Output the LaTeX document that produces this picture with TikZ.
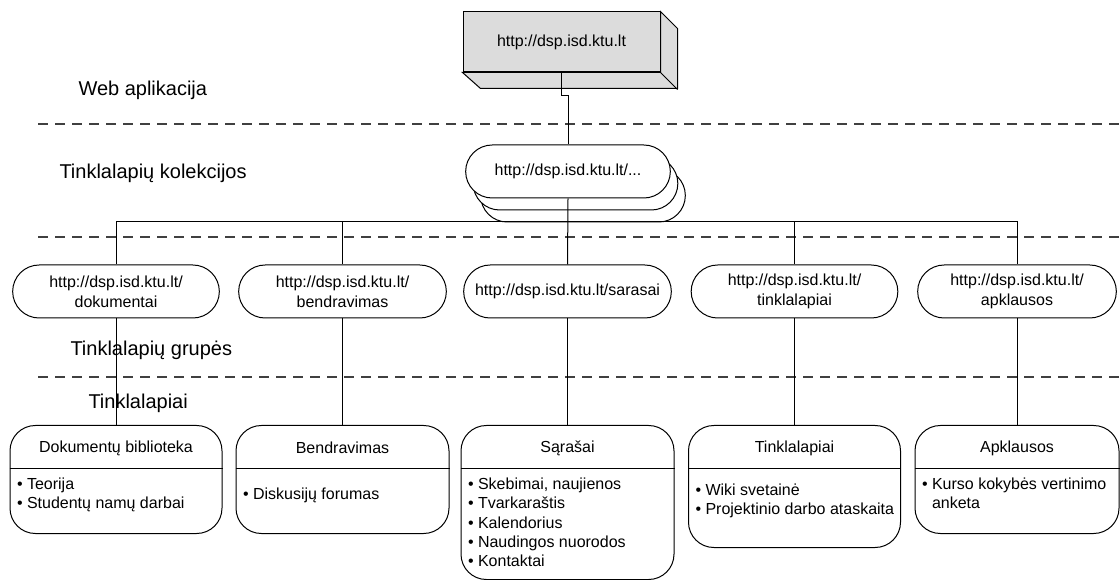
\documentclass[tikz,border=0pt]{standalone}
\usepackage{fontspec}
\setmainfont{Liberation Sans}
\usetikzlibrary{calc, shapes.misc}
\definecolor{appgray}{RGB}{220,220,220}
\definecolor{sepgray}{RGB}{64,64,64}

\begin{document}
\begin{tikzpicture}[x=0.75pt, y=-0.75pt, line width=0.75pt,
  lvl/.style={font=\fontsize{15}{18}\selectfont, inner sep=0pt, anchor=west},
  appbox/.style={draw, fill=appgray, minimum width=147.75pt, minimum height=45pt, font=\fontsize{12}{15}\selectfont},
  pill/.style={draw, fill=white, rounded rectangle, minimum height=39.75pt, inner sep=2pt, align=center, font=\fontsize{12}{15}\selectfont},
  pagebox/.style={draw, fill=white, rounded corners=19pt, inner sep=0pt},
  boxtitle/.style={font=\fontsize{12}{15}\selectfont},
  items/.style={inner sep=0pt, align=left, anchor=north west, font=\fontsize{12}{14.6}\selectfont},
  sep/.style={sepgray, line width=1pt, dash pattern=on 7.5pt off 5.25pt}]
\useasboundingbox (0,0) rectangle (1120,580);

% Level separators and level names
\foreach \y in {124,237,377}
  \draw[sep] (38,\y) -- (1120,\y);
\node[lvl] (lweb) at (78,90) {Web aplikacija};
\node[lvl] (lcoll) at (59,173) {Tinklalapių kolekcijos};
\node[lvl] (lgrp) at (70,350) {Tinklalapių grupės};
\node[lvl] (lpage) at (88,403) {Tinklalapiai};

% Web application (box with depth)
\node[appbox] (app) at (561.5,42) {http://dsp.isd.ktu.lt};
\draw[fill=appgray] (app.north east) -- ++(17,17) -- ++(0,60) -- ++(-197,0)
  -- (app.south west) -- (app.south east) -- cycle;
\draw (app.south east) -- ++(17,17);

% Site collections (stacked)
\foreach \k in {2,1}
  \node[pill, minimum width=157.5pt] (coll\k) at (568+\k*7.5,171.5+\k*12) {};
\node[pill, minimum width=157.5pt] (coll) at (568,171.5) {http://dsp.isd.ktu.lt/...};
\draw (app.south) -- ++(0,23) -| (coll.north);

% Site groups
\foreach \n/\x/\w/\txt in {1/116/212/{http://dsp.isd.ktu.lt/\\dokumentai},
    2/342.5/213/{http://dsp.isd.ktu.lt/\\bendravimas},
    3/567.5/213/{http://dsp.isd.ktu.lt/sarasai},
    4/794.5/212/{http://dsp.isd.ktu.lt/\\tinklalapiai},
    5/1017/204/{http://dsp.isd.ktu.lt/\\apklausos}}
  \node[pill, minimum width=\w*0.75pt] (g\n) at (\x,291.5) {\txt};

\coordinate (bus) at (568,222);
\foreach \n in {1,2,4,5}
  \draw (bus) -| (g\n.north);
\draw (coll.south) -- (g3.north);

% Sites
\foreach \n/\x/\w/\h/\dy/\title/\list in {
    1/116/212/108/0/{Dokumentų biblioteka}/{• Teorija\\• Studentų namų darbai},
    2/342.5/213/108/10/{Bendravimas}/{• Diskusijų forumas},
    3/567.5/213/154/0/{Sąrašai}/{• Skebimai, naujienos\\• Tvarkaraštis\\• Kalendorius\\• Naudingos nuorodos\\• Kontaktai},
    4/794.5/212/122/6/{Tinklalapiai}/{• Wiki svetainė\\• Projektinio darbo ataskaita},
    5/1017/204/108/0/{Apklausos}/{• Kurso kokybės vertinimo\\\hphantom{• }anketa}} {
  \node[pagebox, minimum width=\w*0.75pt, minimum height=\h*0.75pt, anchor=north] (p\n) at (\x,425) {};
  \node[boxtitle] (t\n) at (\x,448) {\title};
  \draw ($(p\n.north west)+(0,43)$) -- ($(p\n.north east)+(0,43)$);
  \node[items] (i\n) at ($(p\n.north west)+(7,52+\dy)$) {\list};
  \draw (g\n.south) -- (p\n.north);
}
\end{tikzpicture}
\end{document}
